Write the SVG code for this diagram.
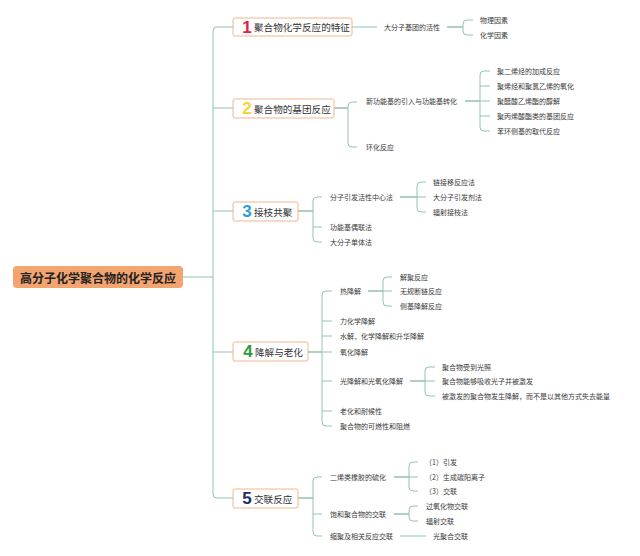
<svg xmlns="http://www.w3.org/2000/svg" width="640" height="556" viewBox="0 0 640 556">
<style>
.bg{fill:#ffffff}
.br{fill:none;stroke:#93c3b6;stroke-width:1}
.ld{fill:none;stroke:#5f9f8a;stroke-width:1}
.t{font-family:"Noto Sans CJK SC","Liberation Sans",sans-serif;font-size:7px;fill:#3a3a3a;dominant-baseline:central}
.box{fill:#ffffff;stroke:#f1b58c;stroke-width:1}
.lab{font-family:"Noto Sans CJK SC","Liberation Sans",sans-serif;font-size:9.6px;fill:#333333;dominant-baseline:central}
.num{font-family:"Liberation Sans","Noto Sans CJK SC",sans-serif;font-size:17px;font-weight:bold;text-anchor:middle;dominant-baseline:central}
.root{fill:#f4a46f}
.rt{font-family:"Noto Sans CJK SC","Liberation Sans",sans-serif;font-size:12px;font-weight:bold;fill:#222222;text-anchor:middle;dominant-baseline:central}
</style>
<rect class="bg" x="0" y="0" width="640" height="556"/>
<g id="connectors">
  <path class="br" d="M183,277 H213"/>
  <path class="br" d="M233,27 H217 Q213,27 213,31 V494 Q213,498 217,498 H233 M213,108 H233 M213,211 H233 M213,352 H233"/>
  <path class="br" d="M352,27 H377"/>
  <path class="ld" d="M447,27 H463"/>
  <path class="br" d="M473,20 H467 Q463,20 463,24 V31 Q463,35 467,35 H473"/>
  <path class="ld" d="M334,108 H348"/>
  <path class="br" d="M357,102 H352 Q348,102 348,106 V143 Q348,147 352,147 H357"/>
  <path class="ld" d="M465,101 H480"/>
  <path class="br" d="M490,71 H484 Q480,71 480,75 V127 Q480,131 484,131 H490 M480,86 H490 M480,101 H490 M480,116 H490"/>
  <path class="ld" d="M298,211 H313"/>
  <path class="br" d="M322,197 H317 Q313,197 313,201 V238 Q313,242 317,242 H322 M313,227 H322"/>
  <path class="ld" d="M400,197 H417"/>
  <path class="br" d="M426,182 H421 Q417,182 417,186 V208 Q417,212 421,212 H426 M417,197 H426"/>
  <path class="ld" d="M307,352 H322"/>
  <path class="br" d="M332,291 H326 Q322,291 322,295 V422 Q322,426 326,426 H332 M322,321 H332 M322,336 H332 M322,352 H332 M322,381 H332 M322,411 H332"/>
  <path class="ld" d="M368,291 H383"/>
  <path class="br" d="M392,277 H387 Q383,277 383,281 V302 Q383,306 387,306 H392 M383,291 H392"/>
  <path class="ld" d="M410,381 H425"/>
  <path class="br" d="M435,367 H429 Q425,367 425,371 V392 Q425,396 429,396 H435 M425,381 H435"/>
  <path class="ld" d="M298,498 H313"/>
  <path class="br" d="M322,477 H317 Q313,477 313,481 V532 Q313,536 317,536 H322 M313,514 H322"/>
  <path class="ld" d="M394,477 H409"/>
  <path class="br" d="M418,462 H413 Q409,462 409,466 V487 Q409,491 413,491 H418 M409,477 H418"/>
  <path class="ld" d="M394,514 H409"/>
  <path class="br" d="M418,506 H413 Q409,506 409,510 V517 Q409,521 413,521 H418"/>
  <path class="br" d="M400,536 H426"/>
</g>
<g id="root">
  <rect class="root" x="13" y="266" width="170" height="22" rx="4"/>
  <text class="rt" x="98" y="277">高分子化学聚合物的化学反应</text>
</g>
<g id="n1">
  <rect class="box" x="233" y="18" width="119" height="18" rx="2"/>
  <text class="num" x="247" y="27" fill="#df2040">1</text>
  <text class="lab" x="254" y="27">聚合物化学反应的特征</text>
</g>
<g id="n1a"><text class="t" x="384" y="27">大分子基团的活性</text></g>
<g id="n1a1"><text class="t" x="480" y="20">物理因素</text></g>
<g id="n1a2"><text class="t" x="480" y="35">化学因素</text></g>
<g id="n2">
  <rect class="box" x="233" y="99" width="101" height="19" rx="2"/>
  <text class="num" x="247" y="108.5" fill="#f5d43a">2</text>
  <text class="lab" x="254" y="108.5">聚合物的基团反应</text>
</g>
<g id="n2a"><text class="t" x="366" y="101">新功能基的引入与功能基转化</text></g>
<g id="n2a1"><text class="t" x="497" y="71">聚二烯烃的加成反应</text></g>
<g id="n2a2"><text class="t" x="497" y="86">聚烯烃和聚氯乙烯的氧化</text></g>
<g id="n2a3"><text class="t" x="497" y="101">聚醋酸乙烯酯的醇解</text></g>
<g id="n2a4"><text class="t" x="497" y="116">聚丙烯酸酯类的基团反应</text></g>
<g id="n2a5"><text class="t" x="497" y="131">苯环侧基的取代反应</text></g>
<g id="n2b"><text class="t" x="366" y="147">环化反应</text></g>
<g id="n3">
  <rect class="box" x="233" y="202" width="65" height="19" rx="2"/>
  <text class="num" x="247" y="211.5" fill="#2a9ed8">3</text>
  <text class="lab" x="254" y="211.5">接枝共聚</text>
</g>
<g id="n3a"><text class="t" x="330" y="197">分子引发活性中心法</text></g>
<g id="n3a1"><text class="t" x="433" y="182">链接移反应法</text></g>
<g id="n3a2"><text class="t" x="433" y="197">大分子引发剂法</text></g>
<g id="n3a3"><text class="t" x="433" y="212">辐射接枝法</text></g>
<g id="n3b"><text class="t" x="330" y="227">功能基偶联法</text></g>
<g id="n3c"><text class="t" x="330" y="242">大分子单体法</text></g>
<g id="n4">
  <rect class="box" x="233" y="342" width="75" height="19" rx="2"/>
  <text class="num" x="248" y="351.5" fill="#2f9a3c">4</text>
  <text class="lab" x="255" y="351.5">降解与老化</text>
</g>
<g id="n4a"><text class="t" x="340" y="291">热降解</text></g>
<g id="n4a1"><text class="t" x="400" y="277">解聚反应</text></g>
<g id="n4a2"><text class="t" x="400" y="291">无规断链反应</text></g>
<g id="n4a3"><text class="t" x="400" y="306">侧基降解反应</text></g>
<g id="n4b"><text class="t" x="340" y="321">力化学降解</text></g>
<g id="n4c"><text class="t" x="340" y="336">水解，化学降解和升华降解</text></g>
<g id="n4d"><text class="t" x="340" y="352">氧化降解</text></g>
<g id="n4e"><text class="t" x="340" y="381">光降解和光氧化降解</text></g>
<g id="n4e1"><text class="t" x="442" y="367">聚合物受到光照</text></g>
<g id="n4e2"><text class="t" x="442" y="381">聚合物能够吸收光子并被激发</text></g>
<g id="n4e3"><text class="t" x="442" y="396">被激发的聚合物发生降解，而不是以其他方式失去能量</text></g>
<g id="n4f"><text class="t" x="340" y="411">老化和耐候性</text></g>
<g id="n4g"><text class="t" x="340" y="426">聚合物的可燃性和阻燃</text></g>
<g id="n5">
  <rect class="box" x="233" y="489" width="65" height="19" rx="2"/>
  <text class="num" x="247" y="498.5" fill="#1e2a6e">5</text>
  <text class="lab" x="254" y="498.5">交联反应</text>
</g>
<g id="n5a"><text class="t" x="330" y="477">二烯类橡胶的硫化</text></g>
<g id="n5a1"><text class="t" x="425" y="462">（1）引发</text></g>
<g id="n5a2"><text class="t" x="425" y="477">（2）生成碳阳离子</text></g>
<g id="n5a3"><text class="t" x="425" y="491">（3）交联</text></g>
<g id="n5b"><text class="t" x="330" y="514">饱和聚合物的交联</text></g>
<g id="n5b1"><text class="t" x="426" y="506">过氧化物交联</text></g>
<g id="n5b2"><text class="t" x="426" y="521">辐射交联</text></g>
<g id="n5c"><text class="t" x="330" y="536">缩聚及相关反应交联</text></g>
<g id="n5c1"><text class="t" x="433" y="536">光聚合交联</text></g>
</svg>
